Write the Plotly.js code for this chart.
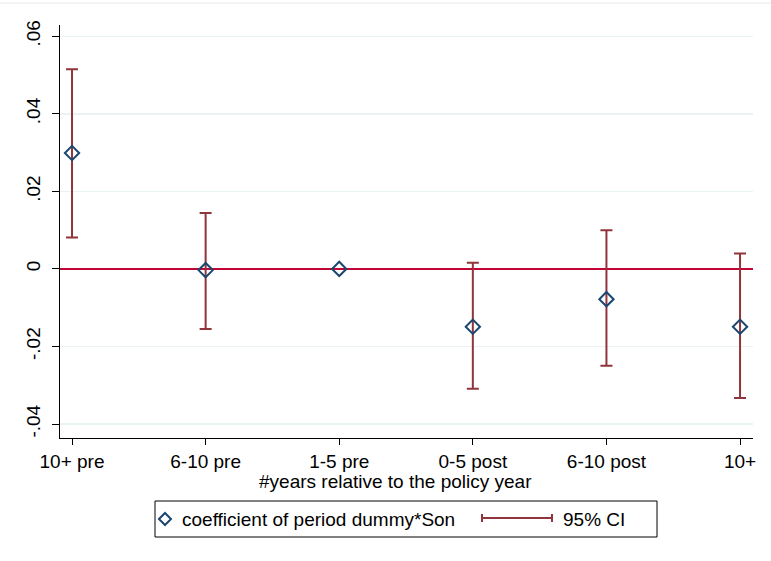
<!DOCTYPE html>
<html>
<head>
<meta charset="utf-8">
<script src="https://cdn.plot.ly/plotly-3.0.1.min.js"></script>
<style>
  html, body { margin: 0; padding: 0; background: #fff; }
  #chart { width: 771px; height: 561px; }
</style>
</head>
<body>
<div id="chart"></div>
<script>
// Event-study coefficients with 95% confidence intervals
const periods = ["10+ pre", "6-10 pre", "1-5 pre", "0-5 post", "6-10 post", "10+"];
const positions = [1, 2, 3, 4, 5, 6];
const coef = [0.0299, -0.0003, 0.0, -0.0149, -0.0078, -0.0149];
const ciUpper = [0.0515, 0.0144, null, 0.0016, 0.0100, 0.0040];
const ciLower = [0.0081, -0.0155, null, -0.0309, -0.0250, -0.0333];

const yTickVals = [-0.04, -0.02, 0, 0.02, 0.04, 0.06];
const yTickText = ["-.04", "-.02", "0", ".02", ".04", ".06"];

const W = 771, H = 561;
const M = { l: 60, r: 18, t: 25, b: 123 };
const plotW = W - M.l - M.r, plotH = H - M.t - M.b;
// convert page pixel positions to paper coordinates for the legend box and axis title
const px = x => (x - M.l) / plotW;
const py = y => (H - M.b - y) / plotH;

const errPlus = coef.map((c, i) => ciUpper[i] === null ? NaN : ciUpper[i] - c);
const errMinus = coef.map((c, i) => ciLower[i] === null ? NaN : c - ciLower[i]);

const ciColor = "#90353b";
const markColor = "#1a476f";
const font = "Liberation Sans, Arial, sans-serif";
const fs = 19;

const traces = [
  {
    type: "scatter",
    mode: "markers",
    x: positions,
    y: coef,
    name: "coefficient of period dummy*Son",
    marker: { symbol: "diamond-open", size: 11, color: markColor, line: { width: 2, color: markColor } },
    error_y: {
      type: "data",
      symmetric: false,
      array: errPlus,
      arrayminus: errMinus,
      color: ciColor,
      thickness: 2,
      width: 6
    },
    showlegend: false,
    hoverinfo: "x+y"
  }
];

const shapes = [
  // outer frame line at the top of the figure
  { type: "line", xref: "paper", yref: "paper", x0: px(0), x1: px(W), y0: py(3), y1: py(3),
    line: { color: "#e4e8ea", width: 1 } },
  // legend box
  { type: "rect", xref: "paper", yref: "paper", x0: px(155), x1: px(657), y0: py(501), y1: py(537),
    line: { color: "#000", width: 1 }, fillcolor: "rgba(0,0,0,0)" },
  // diamond symbol
  { type: "path", xref: "paper", yref: "paper",
    path: `M ${px(159)} ${py(519)} L ${px(165)} ${py(513)} L ${px(171)} ${py(519)} L ${px(165)} ${py(525)} Z`,
    line: { color: markColor, width: 2 } },
  // capped range symbol
  { type: "line", xref: "paper", yref: "paper", x0: px(482), x1: px(552), y0: py(518), y1: py(518),
    line: { color: ciColor, width: 2 } },
  { type: "line", xref: "paper", yref: "paper", x0: px(482), x1: px(482), y0: py(514), y1: py(522),
    line: { color: ciColor, width: 2 } },
  { type: "line", xref: "paper", yref: "paper", x0: px(552), x1: px(552), y0: py(514), y1: py(522),
    line: { color: ciColor, width: 2 } }
];

const annotations = [
  // x-axis title
  { xref: "paper", yref: "paper", x: px(395), y: py(481), xanchor: "center", yanchor: "middle",
    text: "#years relative to the policy year", showarrow: false, font: { family: font, size: fs, color: "#000" } },
  // legend labels
  { xref: "paper", yref: "paper", x: px(180), y: py(519), xanchor: "left", yanchor: "middle",
    text: "coefficient of period dummy*Son", showarrow: false, font: { family: font, size: fs, color: "#000" } },
  { xref: "paper", yref: "paper", x: px(561), y: py(519), xanchor: "left", yanchor: "middle",
    text: "95% CI", showarrow: false, font: { family: font, size: fs, color: "#000" } }
];

const layout = {
  width: W,
  height: H,
  margin: M,
  paper_bgcolor: "#fff",
  plot_bgcolor: "#fff",
  font: { family: font, size: fs, color: "#000" },
  showlegend: false,
  xaxis: {
    range: [0.91, 6.097],
    tickvals: positions,
    ticktext: periods,
    ticks: "outside",
    ticklen: 6,
    tickcolor: "#000",
    showline: true,
    linecolor: "#000",
    linewidth: 1,
    showgrid: false,
    zeroline: false,
    tickfont: { family: font, size: fs }
  },
  yaxis: {
    range: [-0.0436, 0.0629],
    tickvals: yTickVals,
    ticktext: yTickText,
    tickangle: -90,
    ticks: "outside",
    ticklen: 7,
    ticklabelstandoff: 4,
    tickcolor: "#000",
    showline: true,
    linecolor: "#000",
    linewidth: 1,
    showgrid: true,
    gridcolor: "#eaf2f3",
    gridwidth: 1.5,
    zeroline: true,
    zerolinecolor: "#c10534",
    zerolinewidth: 2,
    tickfont: { family: font, size: fs }
  },
  shapes: shapes,
  annotations: annotations
};

Plotly.newPlot("chart", traces, layout, { displayModeBar: false, staticPlot: true });
</script>
</body>
</html>
